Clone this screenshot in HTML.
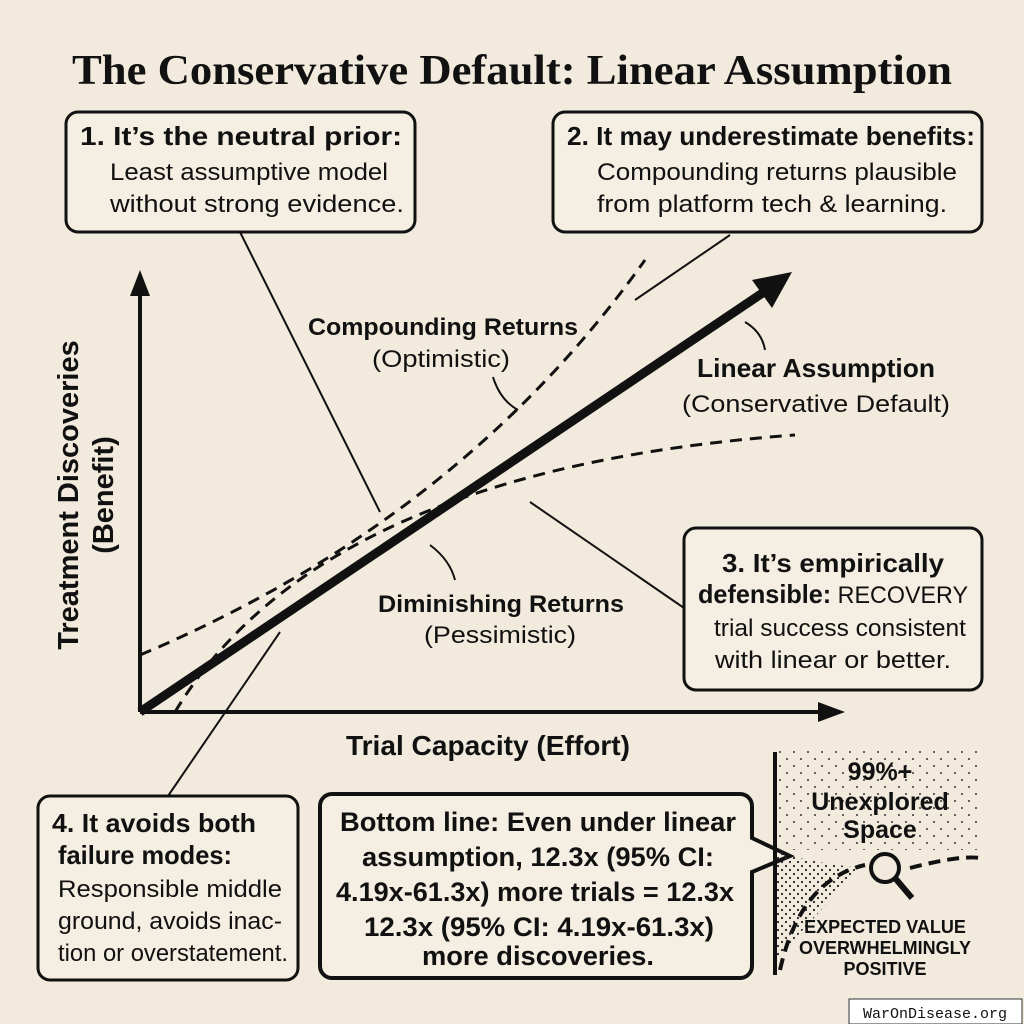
<!DOCTYPE html>
<html><head><meta charset="utf-8"><style>
body{margin:0;background:#f2ebdd}
svg{display:block}
text{font-family:"Liberation Sans",sans-serif;fill:#111}
.b{font-weight:bold}
</style></head><body>
<svg width="1024" height="1024" viewBox="0 0 1024 1024">
<defs>
<pattern id="dots" width="8" height="8" patternUnits="userSpaceOnUse"><circle cx="2" cy="2" r="1.1" fill="#222"/><circle cx="6" cy="6" r="1.1" fill="#222"/></pattern>
<pattern id="dots2" width="14" height="14" patternUnits="userSpaceOnUse"><circle cx="3" cy="3" r="1" fill="#333"/><circle cx="10" cy="10" r="1" fill="#333"/></pattern>
</defs>
<rect width="1024" height="1024" fill="#f2ebdd"/>
<text x="72" y="84" style="font-family:'Liberation Serif',serif;font-weight:bold;font-size:42px" textLength="880" lengthAdjust="spacingAndGlyphs">The Conservative Default: Linear Assumption</text>

<g fill="#f5eee2" stroke="#111" stroke-width="3">
<rect x="66" y="112" width="349" height="120" rx="12"/>
<rect x="553" y="112" width="429" height="120" rx="12"/>
<rect x="684" y="528" width="298" height="162" rx="12"/>
<rect x="38" y="796" width="260" height="184" rx="12"/>
<path d="M332 794 H740 a12 12 0 0 1 12 12 V838 L790 856 L752 872 V966 a12 12 0 0 1 -12 12 H332 a12 12 0 0 1 -12 -12 V806 a12 12 0 0 1 12 -12Z" stroke-width="4"/>
</g>
<g font-size="24" lengthAdjust="spacingAndGlyphs">
<text x="80" y="145" class="b" font-size="26" textLength="322" lengthAdjust="spacingAndGlyphs">1. It’s the neutral prior:</text>
<text x="110" y="180" textLength="278" lengthAdjust="spacingAndGlyphs">Least assumptive model</text>
<text x="110" y="212" textLength="294" lengthAdjust="spacingAndGlyphs">without strong evidence.</text>
<text x="567" y="145" class="b" font-size="26" textLength="408" lengthAdjust="spacingAndGlyphs">2. It may underestimate benefits:</text>
<text x="597" y="180" textLength="360" lengthAdjust="spacingAndGlyphs">Compounding returns plausible</text>
<text x="597" y="212" textLength="350" lengthAdjust="spacingAndGlyphs">from platform tech &amp; learning.</text>
<text x="722" y="572" class="b" font-size="26" textLength="222" lengthAdjust="spacingAndGlyphs">3. It’s empirically</text>
<text x="698" y="603" textLength="270" lengthAdjust="spacingAndGlyphs"><tspan class="b" font-size="26">defensible:</tspan> RECOVERY</text>
<text x="714" y="636" textLength="252" lengthAdjust="spacingAndGlyphs">trial success consistent</text>
<text x="715" y="668" textLength="236" lengthAdjust="spacingAndGlyphs">with linear or better.</text>
<text x="52" y="832" class="b" font-size="26" textLength="204" lengthAdjust="spacingAndGlyphs">4. It avoids both</text>
<text x="58" y="864" class="b" font-size="26" textLength="174" lengthAdjust="spacingAndGlyphs">failure modes:</text>
<text x="58" y="897" textLength="224" lengthAdjust="spacingAndGlyphs">Responsible middle</text>
<text x="58" y="929" textLength="224" lengthAdjust="spacingAndGlyphs">ground, avoids inac-</text>
<text x="58" y="961" textLength="230" lengthAdjust="spacingAndGlyphs">tion or overstatement.</text>
</g>
<g font-size="27" class="b">
<text x="340" y="831" textLength="396" lengthAdjust="spacingAndGlyphs">Bottom line: Even under linear</text>
<text x="362" y="866" textLength="352" lengthAdjust="spacingAndGlyphs">assumption, 12.3x (95% CI:</text>
<text x="336" y="901" textLength="398" lengthAdjust="spacingAndGlyphs">4.19x-61.3x) more trials = 12.3x</text>
<text x="364" y="936" textLength="350" lengthAdjust="spacingAndGlyphs">12.3x (95% CI: 4.19x-61.3x)</text>
<text x="422" y="965" textLength="232" lengthAdjust="spacingAndGlyphs">more discoveries.</text>
</g>

<g stroke="#111" stroke-width="4" fill="none">
<path d="M140 712 V280"/><path d="M140 712 H835"/>
</g>
<path d="M140 270 L130 296 L150 296Z" fill="#111"/>
<path d="M845 712 L818 702 L818 722Z" fill="#111"/>
<g stroke="#111" stroke-width="3" fill="none" stroke-dasharray="12 8">
<path d="M140 655 Q460 520 645 260"/>
<path d="M175 712 Q320 470 795 435"/>
</g>
<path d="M140 712 L770 288" stroke="#111" stroke-width="9"/>
<path d="M792 272 L752 280 L772 308Z" fill="#111"/>
<g stroke="#111" stroke-width="2" fill="none">
<path d="M240 232 L380 512"/><path d="M730 235 L635 300"/>
<path d="M684 608 L530 502"/><path d="M168 796 L280 632"/>
<path d="M493 377 Q500 400 518 410"/><path d="M745 322 Q762 332 765 350"/>
<path d="M430 545 Q450 560 455 580"/>
</g>
<text x="308" y="335" class="b" font-size="24" textLength="270" lengthAdjust="spacingAndGlyphs">Compounding Returns</text>
<text x="372" y="367" font-size="24" textLength="138" lengthAdjust="spacingAndGlyphs">(Optimistic)</text>
<text x="697" y="377" class="b" font-size="26" textLength="238" lengthAdjust="spacingAndGlyphs">Linear Assumption</text>
<text x="682" y="412" font-size="24" textLength="268" lengthAdjust="spacingAndGlyphs">(Conservative Default)</text>
<text x="378" y="612" class="b" font-size="24" textLength="246" lengthAdjust="spacingAndGlyphs">Diminishing Returns</text>
<text x="424" y="643" font-size="24" textLength="152" lengthAdjust="spacingAndGlyphs">(Pessimistic)</text>
<text transform="translate(78 495) rotate(-90)" text-anchor="middle" class="b" font-size="29">Treatment Discoveries</text>
<text transform="translate(113 495) rotate(-90)" text-anchor="middle" class="b" font-size="29">(Benefit)</text>
<text x="346" y="755" class="b" font-size="28" textLength="284" lengthAdjust="spacingAndGlyphs">Trial Capacity (Effort)</text>

<rect x="778" y="750" width="200" height="100" fill="url(#dots2)"/>
<path d="M775 850 Q795 860 860 868 L775 960Z" fill="url(#dots)"/>
<path d="M775 752 V975" stroke="#111" stroke-width="4"/>
<path d="M780 970 Q800 880 865 865 M910 868 Q960 855 980 858" stroke="#111" stroke-width="4" fill="none" stroke-dasharray="12 7"/>
<circle cx="885" cy="868" r="14" fill="#f2ebdd" stroke="#111" stroke-width="4"/>
<path d="M895 878 L912 898" stroke="#111" stroke-width="6"/>
<g class="b" text-anchor="middle">
<text x="880" y="780" font-size="25">99%+</text>
<text x="880" y="810" font-size="25">Unexplored</text>
<text x="880" y="838" font-size="25">Space</text>
<text x="885" y="933" font-size="18">EXPECTED VALUE</text>
<text x="885" y="954" font-size="18">OVERWHELMINGLY</text>
<text x="885" y="975" font-size="18">POSITIVE</text>
</g>
<rect x="849" y="999" width="173" height="25" fill="#fff" stroke="#333" stroke-width="1"/>
<text x="935" y="1018" text-anchor="middle" style="font-family:'Liberation Mono',monospace;font-size:15px">WarOnDisease.org</text>
</svg>
</body></html>
